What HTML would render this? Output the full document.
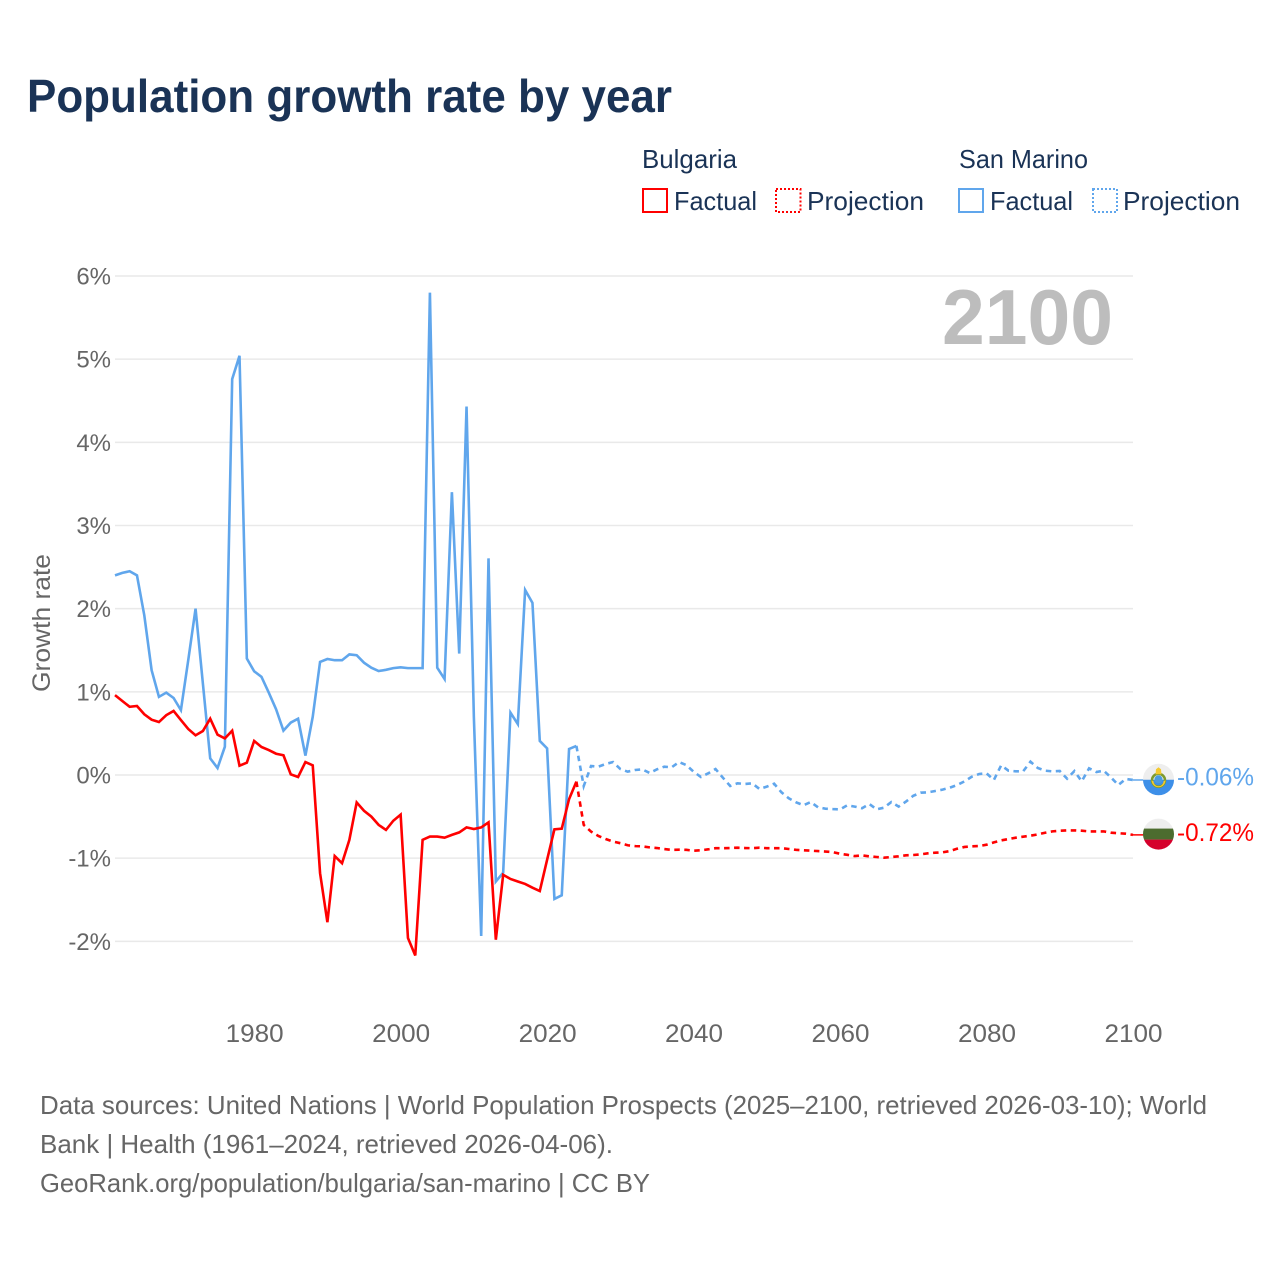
<!DOCTYPE html>
<html lang="en">
<head>
<meta charset="utf-8">
<title>Population growth rate by year</title>
<style>
html,body{margin:0;padding:0;background:#fff;width:1280px;height:1280px;overflow:hidden}
svg{display:block}
text{font-family:"Liberation Sans",sans-serif}
</style>
</head>
<body>
<svg id="chart" xmlns="http://www.w3.org/2000/svg" width="1280" height="1280" viewBox="0 0 1280 1280">
  <rect x="0" y="0" width="1280" height="1280" fill="#fff"/>
  <text x="27" y="112" font-size="46" font-weight="700" fill="#1a3356" textLength="645" lengthAdjust="spacingAndGlyphs">Population growth rate by year</text>

  <g font-size="26" fill="#1a3356">
    <text x="642" y="168" textLength="95" lengthAdjust="spacingAndGlyphs">Bulgaria</text>
    <text x="959" y="168" textLength="129" lengthAdjust="spacingAndGlyphs">San Marino</text>
    <g>
      <rect x="643" y="189" width="24" height="23" fill="none" stroke="#ff0000" stroke-width="2"/>
      <text x="674" y="210" textLength="83" lengthAdjust="spacingAndGlyphs">Factual</text>
    </g>
    <g>
      <rect x="776" y="189" width="24.500" height="23" fill="none" stroke="#ff0000" stroke-width="2" stroke-dasharray="2 2"/>
      <text x="807" y="210" textLength="117" lengthAdjust="spacingAndGlyphs">Projection</text>
    </g>
    <g>
      <rect x="959" y="189" width="24" height="23" fill="none" stroke="#60a6ec" stroke-width="2"/>
      <text x="990" y="210" textLength="83" lengthAdjust="spacingAndGlyphs">Factual</text>
    </g>
    <g>
      <rect x="1093" y="189" width="24" height="23" fill="none" stroke="#60a6ec" stroke-width="2" stroke-dasharray="2 2"/>
      <text x="1123" y="210" textLength="117" lengthAdjust="spacingAndGlyphs">Projection</text>
    </g>
  </g>

  <g id="grid"></g>
  <g id="y-axis"></g>
  <g id="x-axis"></g>
  <text transform="translate(50,623) rotate(-90)" text-anchor="middle" font-size="25" fill="#666" textLength="138" lengthAdjust="spacingAndGlyphs">Growth rate</text>
  <text x="942" y="344" font-size="78" font-weight="700" fill="#bdbdbd" textLength="171" lengthAdjust="spacingAndGlyphs">2100</text>
  <g id="series"></g>
  <g id="end-markers"></g>

  <g font-size="26" fill="#666">
    <text x="40" y="1114" textLength="1167" lengthAdjust="spacingAndGlyphs">Data sources: United Nations | World Population Prospects (2025–2100, retrieved 2026-03-10); World</text>
    <text x="40" y="1153" textLength="573" lengthAdjust="spacingAndGlyphs">Bank | Health (1961–2024, retrieved 2026-04-06).</text>
    <text x="40" y="1192" textLength="610" lengthAdjust="spacingAndGlyphs">GeoRank.org/population/bulgaria/san-marino | CC BY</text>
  </g>
</svg>

<script>
const factualStartYear = 1961;
const projectionStartYear = 2024;
const xTickYears = [1980, 2000, 2020, 2040, 2060, 2080, 2100];
const yTickValues = [6, 5, 4, 3, 2, 1, 0, -1, -2];
const yTickLabels = ["6%", "5%", "4%", "3%", "2%", "1%", "0%", "-1%", "-2%"];

const bulgariaFactual = [
  0.96, 0.89, 0.82, 0.83, 0.73, 0.665, 0.637, 0.72, 0.77, 0.66,
  0.553, 0.477, 0.529, 0.677, 0.485, 0.44, 0.533, 0.112, 0.148, 0.409,
  0.337, 0.30, 0.256, 0.237, 0.008, -0.024, 0.156, 0.116, -1.18, -1.77,
  -0.974, -1.06, -0.78, -0.33, -0.43, -0.50, -0.60, -0.66, -0.55, -0.477,
  -1.96, -2.17, -0.78, -0.74, -0.74, -0.754, -0.72, -0.69, -0.63, -0.65,
  -0.63, -0.57, -1.98, -1.20, -1.25, -1.28, -1.31, -1.355, -1.395, -1.02,
  -0.653, -0.645, -0.29, -0.08
];

const bulgariaProjection = [
  -0.08, -0.60, -0.68, -0.733, -0.77, -0.80, -0.82, -0.845, -0.854, -0.858,
  -0.87, -0.878, -0.89, -0.90, -0.898, -0.90, -0.91, -0.905, -0.894, -0.88,
  -0.88, -0.878, -0.874, -0.878, -0.88, -0.874, -0.88, -0.88, -0.88, -0.89,
  -0.90, -0.905, -0.91, -0.915, -0.92, -0.927, -0.947, -0.96, -0.975, -0.966,
  -0.978, -0.986, -0.994, -0.986, -0.978, -0.966, -0.962, -0.954, -0.942, -0.934,
  -0.93, -0.914, -0.886, -0.865, -0.857, -0.854, -0.838, -0.81, -0.786, -0.77,
  -0.754, -0.742, -0.73, -0.714, -0.694, -0.678, -0.67, -0.666, -0.666, -0.67,
  -0.678, -0.678, -0.678, -0.694, -0.70, -0.706, -0.72
];

const sanMarinoFactual = [
  2.40, 2.43, 2.45, 2.40, 1.92, 1.26, 0.94, 0.99, 0.926, 0.78,
  1.38, 2.00, 1.10, 0.20, 0.084, 0.34, 4.76, 5.04, 1.40, 1.247,
  1.18, 0.99, 0.79, 0.533, 0.63, 0.677, 0.233, 0.70, 1.36, 1.395,
  1.38, 1.38, 1.45, 1.44, 1.35, 1.29, 1.25, 1.265, 1.285, 1.295,
  1.285, 1.285, 1.285, 5.80, 1.29, 1.154, 3.40, 1.46, 4.43, 0.70,
  -1.935, 2.605, -1.28, -1.175, 0.75, 0.613, 2.224, 2.07, 0.41, 0.32,
  -1.49, -1.447, 0.313, 0.35
];

const sanMarinoProjection = [
  0.35, -0.133, 0.108, 0.10, 0.132, 0.156, 0.072, 0.04, 0.06, 0.068,
  0.024, 0.068, 0.10, 0.092, 0.156, 0.12, 0.04, -0.024, 0.02, 0.072,
  -0.032, -0.132, -0.10, -0.108, -0.10, -0.168, -0.14, -0.105, -0.208, -0.28,
  -0.328, -0.364, -0.325, -0.389, -0.405, -0.41, -0.413, -0.364, -0.38, -0.40,
  -0.349, -0.413, -0.393, -0.325, -0.38, -0.32, -0.25, -0.213, -0.208, -0.192,
  -0.176, -0.152, -0.12, -0.076, -0.02, 0.012, 0.02, -0.06, 0.116, 0.052,
  0.044, 0.044, 0.16, 0.084, 0.052, 0.044, 0.048, -0.044, 0.048, -0.076,
  0.08, 0.036, 0.052, -0.03, -0.12, -0.048, -0.06
];

const bulgariaEndLabel = "-0.72%";
const sanMarinoEndLabel = "-0.06%";

const SVG_NS = "http://www.w3.org/2000/svg";
const RED = "#ff0000";
const BLUE = "#60a6ec";
const LINE_WIDTH = "2.6";

function xScale(year) {
  return 115 + (year - 1961) * (1018 / 139);
}
function yScale(value) {
  return 775 - value * 83.17;
}
function make(tag) {
  return document.createElementNS(SVG_NS, tag);
}
function linePath(startYear, values) {
  return values.map(function (v, i) {
    return (i ? "L" : "M") + xScale(startYear + i).toFixed(2) + " " + yScale(v).toFixed(2);
  }).join("");
}

const gridGroup = document.getElementById("grid");
const yAxisGroup = document.getElementById("y-axis");
const xAxisGroup = document.getElementById("x-axis");
const seriesGroup = document.getElementById("series");
const markerGroup = document.getElementById("end-markers");

yTickValues.forEach(function (v, i) {
  const gl = make("line");
  
  
  gl.setAttribute("x1", 115);
  gl.setAttribute("x2", 1133);
  gl.setAttribute("y1", yScale(v));
  gl.setAttribute("y2", yScale(v));
  gl.setAttribute("stroke", "#e9e9e9");
  gl.setAttribute("stroke-width", "1.5");
  gridGroup.appendChild(gl);

  const t = make("text");
  
  
  t.setAttribute("x", 111);
  t.setAttribute("y", yScale(v) + 8.5);
  t.setAttribute("text-anchor", "end");
  t.setAttribute("font-size", "24");
  t.setAttribute("fill", "#666");
  t.textContent = yTickLabels[i];
  yAxisGroup.appendChild(t);
});

xTickYears.forEach(function (year) {
  const t = make("text");
  
  
  t.setAttribute("x", xScale(year) + 0.5);
  t.setAttribute("y", 1042);
  t.setAttribute("text-anchor", "middle");
  t.setAttribute("font-size", "25");
  t.setAttribute("fill", "#666");
  t.setAttribute("textLength", "58");
  t.setAttribute("lengthAdjust", "spacingAndGlyphs");
  t.textContent = String(year);
  xAxisGroup.appendChild(t);
});

const sanMarinoFactualLine = make("path");


sanMarinoFactualLine.setAttribute("d", linePath(factualStartYear, sanMarinoFactual));
sanMarinoFactualLine.setAttribute("fill", "none");
sanMarinoFactualLine.setAttribute("stroke", BLUE);
sanMarinoFactualLine.setAttribute("stroke-width", LINE_WIDTH);
seriesGroup.appendChild(sanMarinoFactualLine);

const sanMarinoProjectionLine = make("path");


sanMarinoProjectionLine.setAttribute("d", linePath(projectionStartYear, sanMarinoProjection));
sanMarinoProjectionLine.setAttribute("fill", "none");
sanMarinoProjectionLine.setAttribute("stroke", BLUE);
sanMarinoProjectionLine.setAttribute("stroke-width", LINE_WIDTH);
sanMarinoProjectionLine.setAttribute("stroke-dasharray", "5.500 4.500");
seriesGroup.appendChild(sanMarinoProjectionLine);

const bulgariaFactualLine = make("path");


bulgariaFactualLine.setAttribute("d", linePath(factualStartYear, bulgariaFactual));
bulgariaFactualLine.setAttribute("fill", "none");
bulgariaFactualLine.setAttribute("stroke", RED);
bulgariaFactualLine.setAttribute("stroke-width", LINE_WIDTH);
seriesGroup.appendChild(bulgariaFactualLine);

const bulgariaProjectionLine = make("path");


bulgariaProjectionLine.setAttribute("d", linePath(projectionStartYear, bulgariaProjection));
bulgariaProjectionLine.setAttribute("fill", "none");
bulgariaProjectionLine.setAttribute("stroke", RED);
bulgariaProjectionLine.setAttribute("stroke-width", LINE_WIDTH);
bulgariaProjectionLine.setAttribute("stroke-dasharray", "5.500 4.500");
seriesGroup.appendChild(bulgariaProjectionLine);

/* End-of-line flags and value labels follow the last value of each projection */
const smY = yScale(sanMarinoProjection[sanMarinoProjection.length - 1]);
const bgY = yScale(bulgariaProjection[bulgariaProjection.length - 1]);

const sanMarinoLeader = make("line");


sanMarinoLeader.setAttribute("x1", 1133);
sanMarinoLeader.setAttribute("x2", 1144);
sanMarinoLeader.setAttribute("y1", smY);
sanMarinoLeader.setAttribute("y2", smY);
sanMarinoLeader.setAttribute("stroke", BLUE);
sanMarinoLeader.setAttribute("stroke-width", "1.5");
markerGroup.appendChild(sanMarinoLeader);

const bulgariaLeader = make("line");


bulgariaLeader.setAttribute("x1", 1133);
bulgariaLeader.setAttribute("x2", 1144);
bulgariaLeader.setAttribute("y1", bgY);
bulgariaLeader.setAttribute("y2", bgY);
bulgariaLeader.setAttribute("stroke", RED);
bulgariaLeader.setAttribute("stroke-width", "1.5");
markerGroup.appendChild(bulgariaLeader);

const sanMarinoFlag = make("g");


sanMarinoFlag.setAttribute("transform", "translate(1158.5," + (smY - 0.7) + ")");
sanMarinoFlag.innerHTML =
  '<circle r="15.5" fill="#eeeeee"/>' +
  '<path d="M-15.5 0.500A15.5 15.500 0 0 0 15.500 0.500Z" fill="#3d8fe8"/>' +
  '<circle cy="1" r="6.500" fill="none" stroke="#7d9a2e" stroke-width="2.500"/>' +
  '<circle cy="0" r="4" fill="#4a9be0"/>' +
  '<path d="M-3 -5L-2.500 -10L0 -12L2.500 -10L3 -5Z" fill="#f4c92e"/>' +
  '<path d="M-7 1A7 7 0 0 0 7 1L5 2A5 5 0 0 1 -5 2Z" fill="#f4c92e"/>';
markerGroup.appendChild(sanMarinoFlag);

const bulgariaFlag = make("g");


bulgariaFlag.setAttribute("transform", "translate(1158.5," + (bgY - 0.8) + ")");
bulgariaFlag.innerHTML =
  '<clipPath id="bg-clip"><circle r="15.5"/></clipPath>' +
  '<g clip-path="url(#bg-clip)">' +
  '<rect x="-16" y="-16" width="32" height="11" fill="#eeeeee"/>' +
  '<rect x="-16" y="-5.500" width="32" height="11" fill="#4c6c2f"/>' +
  '<rect x="-16" y="5.500" width="32" height="11" fill="#d5002b"/></g>';
markerGroup.appendChild(bulgariaFlag);

const sanMarinoValue = make("text");


sanMarinoValue.setAttribute("x", 1177);
sanMarinoValue.setAttribute("y", smY + 5.5);
sanMarinoValue.setAttribute("font-size", "25");
sanMarinoValue.setAttribute("fill", BLUE);
sanMarinoValue.setAttribute("textLength", "77");
sanMarinoValue.setAttribute("lengthAdjust", "spacingAndGlyphs");
sanMarinoValue.textContent = sanMarinoEndLabel;
markerGroup.appendChild(sanMarinoValue);

const bulgariaValue = make("text");


bulgariaValue.setAttribute("x", 1177);
bulgariaValue.setAttribute("y", bgY + 6);
bulgariaValue.setAttribute("font-size", "25");
bulgariaValue.setAttribute("fill", RED);
bulgariaValue.setAttribute("textLength", "77");
bulgariaValue.setAttribute("lengthAdjust", "spacingAndGlyphs");
bulgariaValue.textContent = bulgariaEndLabel;
markerGroup.appendChild(bulgariaValue);
</script>
</body>
</html>
